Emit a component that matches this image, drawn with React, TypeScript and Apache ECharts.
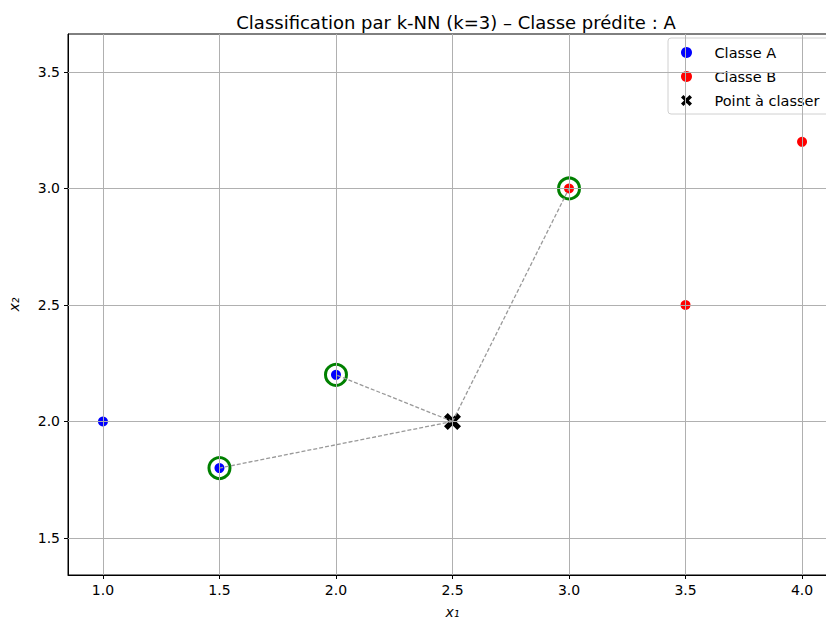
import React, { useEffect, useRef } from "react";
import * as echarts from "echarts";

const classAX = [1.0, 1.5, 2.0];
const classAY = [2.0, 1.8, 2.2];
const classBX = [3.0, 3.5, 4.0];
const classBY = [3.0, 2.5, 3.2];
const queryPoint = [2.5, 2.0];
const neighborX = [1.5, 2.0, 3.0];
const neighborY = [1.8, 2.2, 3.0];
const xTicks = [1.0, 1.5, 2.0, 2.5, 3.0, 3.5, 4.0];
const yTicks = [1.5, 2.0, 2.5, 3.0, 3.5];

const FONT = "DejaVu Sans";
const X_PATH =
  "path://M0,22 L22,0 L50,28 L78,0 L100,22 L72,50 L100,78 L78,100 L50,72 L22,100 L0,78 L28,50 Z";

export default function App() {
  const ref = useRef<HTMLDivElement>(null);
  useEffect(() => {
    const chart = echarts.init(ref.current!, null, { renderer: "svg" });
    const pairs = (xs: number[], ys: number[]) => xs.map((x, i) => [x, ys[i]]);
    const lineSeries = neighborX.map((x, i) => ({
      type: "line",
      name: "dist" + i,
      data: [queryPoint, [x, neighborY[i]]],
      symbol: "none",
      lineStyle: { color: "#999999", width: 1.3, type: [4, 2], opacity: 1 },
      z: 5,
      silent: true,
    }));
    chart.setOption({
      animation: false,
      backgroundColor: "#ffffff",
      title: {
        text: "Classification par k-NN (k=3) – Classe prédite : A",
        left: 451,
        top: 8,
        textAlign: "center",
        textStyle: { fontFamily: FONT, fontSize: 18, fontWeight: "normal", color: "#000" },
      },
      grid: {
        left: 68,
        top: 34,
        width: 769,
        height: 541,
        show: true,
        borderColor: "#000",
        borderWidth: 1,
        backgroundColor: "transparent",
        containLabel: false,
        outerBoundsMode: "none",
      },
      legend: {
        left: 668,
        top: 38,
        orient: "vertical",
        itemWidth: 14,
        itemHeight: 11,
        itemGap: 9,
        padding: [7, 30, 6, 13],
        backgroundColor: "#ffffff",
        borderColor: "#d0d0d0",
        borderWidth: 1,
        borderRadius: 3,
        textStyle: {
          fontFamily: FONT,
          fontSize: 14.5,
          lineHeight: 14,
          color: "#000",
          padding: [0, 0, 0, 16],
        },
        data: [
          { name: "Classe A", icon: "circle", itemStyle: { opacity: 1 } },
          { name: "Classe B", icon: "circle", itemStyle: { opacity: 1 } },
          { name: "Point à classer", icon: X_PATH, itemStyle: { opacity: 1 } },
        ],
      },
      xAxis: {
        type: "value",
        min: 0.85,
        max: 4.15,
        name: "x₁",
        nameLocation: "middle",
        nameGap: 30,
        nameTextStyle: { fontFamily: FONT, fontSize: 14, fontStyle: "italic", color: "#000" },
        axisLine: { show: true, lineStyle: { color: "#000", width: 1 } },
        axisTick: { show: true, length: 4, customValues: xTicks, lineStyle: { color: "#000" } },
        axisLabel: {
          customValues: xTicks,
          formatter: (v: number) => v.toFixed(1),
          fontFamily: FONT,
          fontSize: 14,
          color: "#000",
          margin: 8,
        },
        splitLine: { show: false },
      },
      yAxis: {
        type: "value",
        min: 1.341,
        max: 3.663,
        name: "x₂",
        nameLocation: "middle",
        nameGap: 47,
        nameRotate: 90,
        nameTextStyle: { fontFamily: FONT, fontSize: 14, fontStyle: "italic", color: "#000" },
        axisLine: { show: true, lineStyle: { color: "#000", width: 1 } },
        axisTick: { show: true, length: 4, customValues: yTicks, lineStyle: { color: "#000" } },
        axisLabel: {
          customValues: yTicks,
          formatter: (v: number) => v.toFixed(1),
          fontFamily: FONT,
          fontSize: 14,
          color: "#000",
          margin: 8,
        },
        splitLine: { show: false },
      },
      series: [
        {
          type: "scatter",
          name: "Classe A",
          data: pairs(classAX, classAY),
          symbol: "circle",
          symbolSize: 10,
          itemStyle: { color: "#0000ff", opacity: 1 },
          z: 2,
        },
        {
          type: "scatter",
          name: "Classe B",
          data: pairs(classBX, classBY),
          symbol: "circle",
          symbolSize: 10,
          itemStyle: { color: "#ff0000", opacity: 1 },
          z: 2,
        },
        {
          type: "scatter",
          name: "Point à classer",
          data: [queryPoint],
          symbol: X_PATH,
          symbolSize: 17,
          itemStyle: { color: "#000000", opacity: 1 },
          z: 2,
        },
        {
          type: "scatter",
          name: "Voisins",
          data: pairs(neighborX, neighborY),
          symbol: "circle",
          symbolSize: 21,
          itemStyle: { color: "transparent", borderColor: "#008000", borderWidth: 3, opacity: 1 },
          z: 2,
          silent: true,
        },
        {
          type: "line",
          name: "grid",
          data: [],
          silent: true,
          z: 3,
          markLine: {
            silent: true,
            symbol: "none",
            label: { show: false },
            lineStyle: { color: "#b0b0b0", width: 1, type: "solid", opacity: 1 },
            data: [
              ...xTicks.map((v) => ({ xAxis: v })),
              ...yTicks.map((v) => ({ yAxis: v })),
            ],
          },
        },
        ...lineSeries,
      ],
    });
    return () => chart.dispose();
  }, []);
  return (
    <div
      style={{
        position: "fixed",
        left: 0,
        top: 0,
        width: 826,
        height: 619,
        overflow: "hidden",
        background: "#fff",
      }}
    >
      <div ref={ref} style={{ width: 860, height: 619 }} />
    </div>
  );
}
